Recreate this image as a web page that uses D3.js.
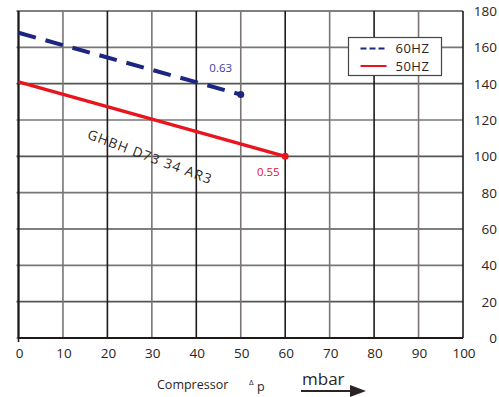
<!DOCTYPE html>
<html>
<head>
<meta charset="utf-8">
<script src="https://cdn.jsdelivr.net/npm/d3@7"></script>
<style>
  body { margin: 0; background: #fff; }
  text { font-family: "Open Sans", "DejaVu Sans", sans-serif; }
</style>
</head>
<body>
<div id="chart"></div>
<script>
// data
const hz60X = [0, 50];
const hz60Y = [168, 134];
const hz50X = [0, 60];
const hz50Y = [141, 100];
const xTicks = [0, 10, 20, 30, 40, 50, 60, 70, 80, 90, 100];
const yTicks = [0, 20, 40, 60, 80, 100, 120, 140, 160, 180];
const legendNames = ['60HZ', '50HZ'];

const W = 499, H = 397;
const margin = { top: 11, left: 18.5, right: 36, bottom: 59 };
const width = W - margin.left - margin.right;
const height = H - margin.top - margin.bottom;

const svg = d3.select('#chart').append('svg')
  .attr('width', W).attr('height', H);

const g = svg.append('g')
  .attr('transform', 'translate(' + margin.left + ', ' + margin.top + ')');

const x = d3.scaleLinear().domain([0, 100]).range([0, width]);
const y = d3.scaleLinear().domain([0, 180]).range([height, 0]);

// grid
g.selectAll('.hgrid').data(yTicks).enter().append('line')
  .attr('x1', -2).attr('x2', width)
  .attr('y1', d => y(d)).attr('y2', d => y(d))
  .attr('stroke', (d, i) => i % 2 ? '#555' : '#777')
  .attr('stroke-width', 1.6);

g.selectAll('.vgrid').data(xTicks).enter().append('line')
  .attr('x1', d => x(d)).attr('x2', d => x(d))
  .attr('y1', 0).attr('y2', d => d === 0 ? height + 4 : height)
  .attr('stroke', (d, i) => (i % 2 && d !== 100) ? '#7a7574' : '#1e1a1a')
  .attr('stroke-width', 1.6);

// axis frame
g.append('line').attr('x1', 0).attr('x2', width).attr('y1', height).attr('y2', height)
  .attr('stroke', '#1e1a1a').attr('stroke-width', 2);
g.append('line').attr('x1', 0).attr('x2', 0).attr('y1', 0).attr('y2', height)
  .attr('stroke', '#1e1a1a').attr('stroke-width', 2);

// tick labels
g.selectAll('.xl').data(xTicks).enter().append('text')
  .attr('x', d => x(d) + 1).attr('y', height + 20)
  .attr('text-anchor', 'middle')
  .attr('font-size', 13.5).attr('fill', '#2a2424')
  .text(d => d);

g.selectAll('.yl').data(yTicks).enter().append('text')
  .attr('x', width + 34).attr('y', d => y(d) + 5)
  .attr('text-anchor', 'end')
  .attr('font-size', 13.5).attr('fill', '#2a2424')
  .text(d => d);

const line = d3.line().x(d => x(d[0])).y(d => y(d[1]));
const blue = '#1c2680', red = '#e8141e';

const d60 = hz60X.map((v, i) => [v, hz60Y[i]]);
const d50 = hz50X.map((v, i) => [v, hz50Y[i]]);

g.append('path').attr('d', line(d60))
  .attr('fill', 'none').attr('stroke', blue)
  .attr('stroke-width', 4).attr('stroke-dasharray', '18,10');
g.append('circle').attr('cx', x(hz60X[1])).attr('cy', y(hz60Y[1])).attr('r', 3.5).attr('fill', blue);

g.append('path').attr('d', line(d50))
  .attr('fill', 'none').attr('stroke', red)
  .attr('stroke-width', 3.5);
g.append('circle').attr('cx', x(hz50X[1])).attr('cy', y(hz50Y[1])).attr('r', 3.5).attr('fill', red);

// value labels
g.append('text').attr('x', x(45.5)).attr('y', y(146.5))
  .attr('text-anchor', 'middle').attr('font-size', 11.5).attr('fill', '#3b3ca3').text('0.63');
g.append('text').attr('x', x(56.2)).attr('y', y(89))
  .attr('text-anchor', 'middle').attr('font-size', 11.5).attr('fill', '#e8141e').text('0.55');

// model name
g.append('text')
  .attr('transform', 'translate(' + x(15.3) + ',' + y(110) + ') rotate(20.5)')
  .attr('font-size', 13.5).attr('fill', '#2a2424').attr('letter-spacing', 1.2)
  .text('GHBH D73 34 AR3');

// legend
const lg = svg.append('g').attr('transform', 'translate(348.5, 37.5)');
lg.append('rect').attr('width', 93).attr('height', 38)
  .attr('fill', '#fff').attr('stroke', '#444').attr('stroke-width', 1.2);
[blue, red].forEach((c, i) => {
  lg.append('line').attr('x1', 12).attr('x2', 38)
    .attr('y1', 11 + i * 17.5).attr('y2', 11 + i * 17.5)
    .attr('stroke', c).attr('stroke-width', i ? 2 : 1.8)
    .attr('stroke-dasharray', i ? null : '6,3');
  lg.append('text').attr('x', 47).attr('y', 15.5 + i * 17.5)
    .attr('font-size', 13).attr('fill', '#2a2424').attr('letter-spacing', 0.5)
    .text(legendNames[i]);
});

// axis title
svg.append('text').attr('x', 157).attr('y', 389)
  .attr('font-size', 12.5).attr('fill', '#2a2424').text('Compressor');
svg.append('text').attr('x', 249).attr('y', 385)
  .attr('font-size', 8).attr('fill', '#2a2424').text('\u0394');
svg.append('text').attr('x', 257).attr('y', 391)
  .attr('font-size', 12.5).attr('fill', '#2a2424').text('p');
svg.append('text').attr('x', 302).attr('y', 385)
  .attr('font-size', 17).attr('fill', '#2a2424').text('mbar');
svg.append('line').attr('x1', 301).attr('x2', 352).attr('y1', 391).attr('y2', 391)
  .attr('stroke', '#2a2424').attr('stroke-width', 2);
svg.append('path').attr('d', 'M350,385 L366,391 L350,397 Z').attr('fill', '#2a2424');
</script>
</body>
</html>
